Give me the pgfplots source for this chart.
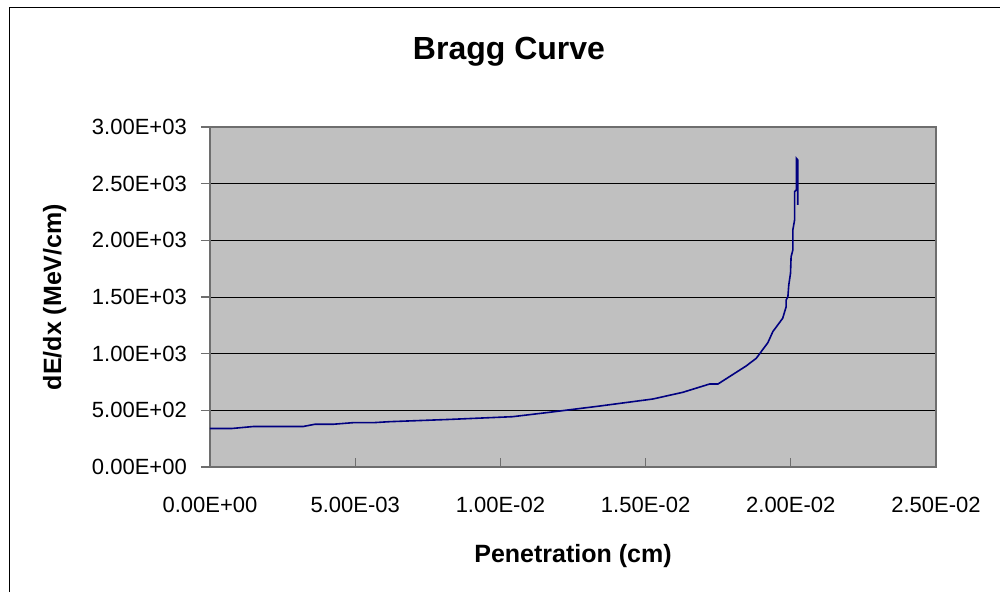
\documentclass[border=0pt]{standalone}
\usepackage{fontspec}
\setmainfont{Liberation Sans}
\usepackage{pgfplots}
\pgfplotsset{compat=1.18}
\definecolor{plotbg}{HTML}{C0C0C0}
\definecolor{frameg}{HTML}{6E6E6E}
\definecolor{curve}{HTML}{000080}
\begin{document}
\begin{tikzpicture}
\useasboundingbox (-210pt,-125pt) rectangle (790pt,467pt);
\draw[line width=1.3pt,black] (-200.5pt,-125pt) -- (-200.5pt,459.5pt) -- (790pt,459.5pt);
\node[anchor=base,font=\bfseries\fontsize{32}{36}\selectfont] at (299pt,407.7pt) {Bragg Curve};
\begin{axis}[
  at={(0pt,0pt)}, anchor=south west,
  scale only axis, width=726pt, height=340pt,
  xmin=0, xmax=0.025, ymin=0, ymax=3000,
  clip=false,
  scaled x ticks=false, scaled y ticks=false,
  axis background/.style={fill=plotbg},
  axis line style={draw=frameg,line width=1.3pt},
  tick align=inside,
  xtick pos=bottom, ytick pos=left,
  major tick length=9pt,
  xtick={0,0.005,0.01,0.015,0.02,0.025},
  xticklabels={},
  ytick={0,500,1000,1500,2000,2500,3000},
  yticklabels={},
  y tick style={xshift=-9pt},
  every tick/.append style={draw=frameg,line width=1.2pt},
  ymajorgrids,
  major grid style={draw=black,line width=0.9pt},
  xlabel={Penetration (cm)},
  ylabel={dE/dx (MeV/cm)},
  xlabel style={at={(axis description cs:0.5,-0.2794)},anchor=base,font=\bfseries\fontsize{25}{30}\selectfont},
  ylabel style={at={(axis description cs:-0.2052,0.5)},anchor=base,font=\bfseries\fontsize{25}{30}\selectfont},
  ytl/.style={anchor=east,inner sep=0pt,xshift=-23pt,font=\fontsize{22}{26}\selectfont},
  xtl/.style={anchor=north,inner sep=0pt,yshift=-30pt,font=\fontsize{22}{26}\selectfont},
]
\addplot[curve,line width=1.6pt,mark=none] coordinates {
(0,340) (0.00076,340) (0.00148,357) (0.0032,357) (0.00361,377) (0.00423,377)
(0.00492,391) (0.00561,391) (0.00619,400) (0.00826,420) (0.01042,444)
(0.0117,483) (0.01342,538) (0.01525,600) (0.01628,659) (0.0172,732)
(0.01749,732) (0.01846,891) (0.01881,959) (0.01921,1097) (0.01938,1194)
(0.01972,1312) (0.01984,1414) (0.01984,1473) (0.0199,1503) (0.01993,1606)
(0.01999,1709) (0.02001,1855) (0.02007,1914) (0.02007,2091) (0.02013,2179)
(0.02013,2429) (0.02019,2444) (0.02019,2724) (0.02024,2709) (0.02024,2312)
};
\node[/pgfplots/ytl] at (axis cs:0,0) {0.00E+00};
\node[/pgfplots/ytl] at (axis cs:0,500) {5.00E+02};
\node[/pgfplots/ytl] at (axis cs:0,1000) {1.00E+03};
\node[/pgfplots/ytl] at (axis cs:0,1500) {1.50E+03};
\node[/pgfplots/ytl] at (axis cs:0,2000) {2.00E+03};
\node[/pgfplots/ytl] at (axis cs:0,2500) {2.50E+03};
\node[/pgfplots/ytl] at (axis cs:0,3000) {3.00E+03};
\node[/pgfplots/xtl] at (axis cs:0,0) {0.00E+00};
\node[/pgfplots/xtl] at (axis cs:0.005,0) {5.00E-03};
\node[/pgfplots/xtl] at (axis cs:0.01,0) {1.00E-02};
\node[/pgfplots/xtl] at (axis cs:0.015,0) {1.50E-02};
\node[/pgfplots/xtl] at (axis cs:0.02,0) {2.00E-02};
\node[/pgfplots/xtl] at (axis cs:0.025,0) {2.50E-02};
\end{axis}
\end{tikzpicture}
\end{document}
